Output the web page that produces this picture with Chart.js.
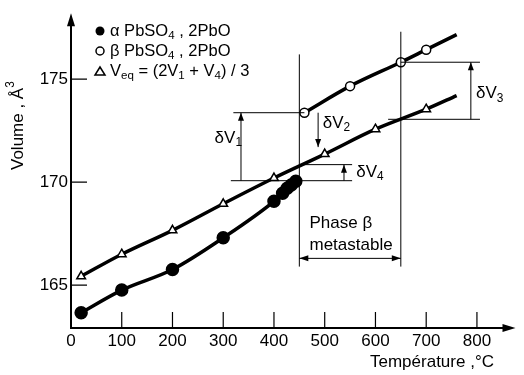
<!DOCTYPE html>
<html>
<head>
<meta charset="utf-8">
<script src="https://cdn.jsdelivr.net/npm/chart.js@4.4.1/dist/chart.umd.min.js"></script>
<style>
  html, body { margin: 0; padding: 0; background: #fff; }
  #wrap { width: 524px; height: 375px; }
</style>
</head>
<body>
<div id="wrap"><canvas id="c" width="524" height="375"></canvas></div>
<script>
// values
const alphaT = [20, 100, 200, 300, 400, 417, 426, 434, 443];
const alphaV = [163.66, 164.76, 165.76, 167.3, 169.07, 169.46, 169.7, 169.86, 170.04];
const betaT = [460, 550, 650, 700];
const betaV = [173.37, 174.66, 175.82, 176.43];
const veqT = [20, 100, 200, 300, 400, 500, 600, 700];
const veqV = [165.43, 166.5, 167.66, 168.95, 170.2, 171.36, 172.57, 173.54];
// where the drawn fit lines stop
const betaLineEnd = [760, 177.16];
const veqLineEnd = [760, 174.2];
const xTicks = [0, 100, 200, 300, 400, 500, 600, 700, 800];
const yTicks = [165, 170, 175];

const FONT = '"Liberation Sans", Arial, sans-serif';

function pts(t, v) { return t.map((x, i) => ({ x: x, y: v[i] })); }

// annotation layout (data units)
const guides = [[450, 176.2, 165.9], [650, 177.3, 165.9]];
const hLines = [[173.37, 320, 460], [175.82, 650, 806], [173.05, 625, 806], [170.85, 450, 554], [170.07, 315, 554]];
const dArrows = [[335, 170.07, 173.37, 'up'], [487, 173.37, 171.7, 'down'], [788, 173.05, 175.82, 'up'], [538, 170.07, 170.85, 'up']];
const dLabels = [['1', 283, 172.15], ['2', 496, 172.87], ['3', 798, 174.32], ['4', 562, 170.5]];

function rich(ctx, x, y, segs, size) {
  let cx = x;
  for (const s of segs) {
    let fs = size, dy = 0;
    if (s[1] === 'sub') { fs = size * 0.7; dy = size * 0.3; }
    if (s[1] === 'sup') { fs = size * 0.7; dy = -size * 0.4; }
    ctx.font = fs + 'px ' + FONT;
    ctx.fillText(s[0], cx, y + dy);
    cx += ctx.measureText(s[0]).width;
  }
  return cx;
}

function head(ctx, x, y, dir, len, w) {
  ctx.beginPath();
  if (dir === 'up') { ctx.moveTo(x, y); ctx.lineTo(x - w, y + len); ctx.lineTo(x + w, y + len); }
  if (dir === 'down') { ctx.moveTo(x, y); ctx.lineTo(x - w, y - len); ctx.lineTo(x + w, y - len); }
  if (dir === 'left') { ctx.moveTo(x, y); ctx.lineTo(x + len, y - w); ctx.lineTo(x + len, y + w); }
  if (dir === 'right') { ctx.moveTo(x, y); ctx.lineTo(x - len, y - w); ctx.lineTo(x - len, y + w); }
  ctx.closePath();
  ctx.fill();
}

const decor = {
  id: 'decor',
  afterDraw(chart) {
    const ctx = chart.ctx, xs = chart.scales.x, ys = chart.scales.y, a = chart.chartArea;
    const X = v => xs.getPixelForValue(v), Y = v => ys.getPixelForValue(v);
    ctx.save();
    ctx.fillStyle = '#000';
    ctx.strokeStyle = '#000';

    // axes with arrows
    ctx.lineWidth = 2;
    ctx.beginPath();
    ctx.moveTo(a.left, a.top + 8); ctx.lineTo(a.left, a.bottom); ctx.lineTo(a.right - 8, a.bottom);
    ctx.stroke();
    head(ctx, a.left, a.top, 'up', 13, 4);
    head(ctx, a.right, a.bottom, 'right', 13, 4);

    // inward ticks
    ctx.lineWidth = 1.2;
    ctx.beginPath();
    xTicks.slice(1).forEach(t => { ctx.moveTo(X(t), a.bottom); ctx.lineTo(X(t), a.bottom - 16); });
    yTicks.forEach(t => { ctx.moveTo(a.left, Y(t)); ctx.lineTo(a.left + 16, Y(t)); });
    ctx.stroke();

    // metastable region bounds and guide lines
    ctx.lineWidth = 1;
    ctx.beginPath();
    guides.forEach(g => { ctx.moveTo(X(g[0]), Y(g[1])); ctx.lineTo(X(g[0]), Y(g[2])); });
    hLines.forEach(h => { ctx.moveTo(X(h[1]), Y(h[0])); ctx.lineTo(X(h[2]), Y(h[0])); });
    dArrows.forEach(d => { ctx.moveTo(X(d[0]), Y(d[1])); ctx.lineTo(X(d[0]), Y(d[2])); });
    ctx.moveTo(X(450), Y(166.3)); ctx.lineTo(X(650), Y(166.3));
    ctx.stroke();
    dArrows.forEach(d => head(ctx, X(d[0]), Y(d[3] === 'up' ? Math.max(d[1], d[2]) : Math.min(d[1], d[2])), d[3], 8, 3));
    head(ctx, X(450), Y(166.3), 'left', 9, 3);
    head(ctx, X(650), Y(166.3), 'right', 9, 3);

    // δV labels
    ctx.textBaseline = 'middle';
    ctx.textAlign = 'left';
    dLabels.forEach(l => rich(ctx, X(l[1]), Y(l[2]), [['δV'], [l[0], 'sub']], 17));
    rich(ctx, X(470), Y(168.0), [['Phase β']], 17);
    rich(ctx, X(470), Y(166.93), [['metastable']], 17);

    // legend
    ctx.beginPath(); ctx.arc(100, 31, 4.5, 0, Math.PI * 2); ctx.fill();
    ctx.lineWidth = 1.5;
    ctx.beginPath(); ctx.arc(100, 51, 4, 0, Math.PI * 2); ctx.stroke();
    ctx.beginPath(); ctx.moveTo(100, 67); ctx.lineTo(95, 75); ctx.lineTo(105, 75); ctx.closePath(); ctx.stroke();
    rich(ctx, 110, 31, [['α PbSO'], ['4', 'sub'], [' , 2PbO']], 16.5);
    rich(ctx, 110, 51, [['β PbSO'], ['4', 'sub'], [' , 2PbO']], 16.5);
    rich(ctx, 110, 71, [['V'], ['eq', 'sub'], [' = (2V'], ['1', 'sub'], [' + V'], ['4', 'sub'], [') / 3']], 16.5);

    // axis titles
    rich(ctx, 370, 362, [['Température ,°C']], 17);
    ctx.save();
    ctx.translate(18, 170);
    ctx.rotate(-Math.PI / 2);
    rich(ctx, 0, 0, [['Volume , Å'], ['3', 'sup']], 17);
    ctx.restore();

    ctx.restore();
  }
};

new Chart(document.getElementById('c'), {
  type: 'scatter',
  data: {
    datasets: [
      { data: pts(alphaT, alphaV), showLine: true, cubicInterpolationMode: 'monotone',
        borderColor: '#000', borderWidth: 3.5, pointRadius: 5, pointBackgroundColor: '#000',
        pointBorderColor: '#000', order: 0 },
      { data: pts(betaT, betaV), showLine: false, pointRadius: 4.5, pointBackgroundColor: '#fff',
        pointBorderColor: '#000', pointBorderWidth: 1.5, order: 0 },
      { data: pts(veqT, veqV), showLine: false, pointStyle: 'triangle', pointRadius: 5,
        pointBackgroundColor: '#fff', pointBorderColor: '#000', pointBorderWidth: 1.5, order: 0 },
      { data: pts(betaT.concat([betaLineEnd[0]]), betaV.concat([betaLineEnd[1]])), showLine: true,
        cubicInterpolationMode: 'monotone', borderColor: '#000', borderWidth: 3.5, pointRadius: 0, order: 1 },
      { data: pts(veqT.concat([veqLineEnd[0]]), veqV.concat([veqLineEnd[1]])), showLine: true,
        cubicInterpolationMode: 'monotone', borderColor: '#000', borderWidth: 3.5, pointRadius: 0, order: 1 }
    ]
  },
  options: {
    responsive: false,
    animation: false,
    events: [],
    layout: { padding: { top: 12, right: 1, left: 0, bottom: 0 } },
    plugins: { legend: { display: false }, tooltip: { enabled: false } },
    scales: {
      x: {
        type: 'linear', min: 0, max: 876,
        grid: { display: false, drawTicks: false }, border: { display: false },
        afterBuildTicks: s => { s.ticks = xTicks.map(v => ({ value: v })); },
        afterFit: s => { s.height = 47; },
        ticks: { padding: 3, color: '#000', font: { family: FONT, size: 17 } }
      },
      y: {
        type: 'linear', min: 162.92, max: 178.2,
        grid: { display: false, drawTicks: false }, border: { display: false },
        afterBuildTicks: s => { s.ticks = yTicks.map(v => ({ value: v })); },
        afterFit: s => { s.width = 71; },
        ticks: { padding: 3, color: '#000', font: { family: FONT, size: 17 } }
      }
    }
  },
  plugins: [decor]
});
</script>
</body>
</html>
